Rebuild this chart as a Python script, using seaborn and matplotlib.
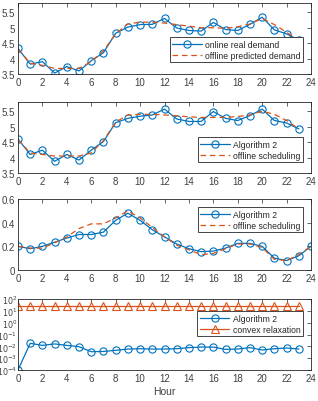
import numpy as np
import pandas as pd
import matplotlib
matplotlib.use("Agg")
import matplotlib.pyplot as plt
import seaborn as sns

hours24 = list(range(24))
hours25 = list(range(25))

online_demand = [4.33, 3.82, 3.90, 3.53, 3.74, 3.60, 3.93, 4.19, 4.82, 5.02, 5.10, 5.11,
                 5.30, 4.99, 4.91, 4.89, 5.17, 4.94, 4.91, 5.11, 5.34, 4.93, 4.80, 4.60]
offline_demand = [4.30, 3.85, 3.78, 3.68, 3.68, 3.68, 3.90, 4.25, 4.80, 5.12, 5.18, 5.18,
                  5.15, 5.10, 5.05, 5.00, 5.00, 4.98, 5.03, 5.12, 5.30, 5.10, 4.85, 4.60]

alg2_p2 = [4.60, 4.10, 4.24, 3.88, 4.10, 3.92, 4.24, 4.52, 5.13, 5.27, 5.34, 5.38,
           5.57, 5.25, 5.17, 5.17, 5.49, 5.27, 5.20, 5.36, 5.57, 5.20, 5.12, 4.93]
offline_p2 = [4.58, 4.15, 4.10, 4.05, 4.05, 4.05, 4.15, 4.55, 5.15, 5.38, 5.40, 5.40,
              5.38, 5.35, 5.32, 5.30, 5.30, 5.30, 5.33, 5.38, 5.50, 5.40, 5.20, 4.93]

alg2_p3 = [0.20, 0.18, 0.20, 0.235, 0.27, 0.30, 0.30, 0.32, 0.42, 0.48, 0.42, 0.34, 0.28,
           0.22, 0.18, 0.155, 0.16, 0.185, 0.225, 0.225, 0.20, 0.10, 0.08, 0.12, 0.20]
offline_p3 = [0.20, 0.185, 0.185, 0.23, 0.28, 0.35, 0.39, 0.39, 0.44, 0.50, 0.44, 0.36, 0.28,
              0.21, 0.17, 0.13, 0.14, 0.18, 0.22, 0.22, 0.19, 0.09, 0.08, 0.13, 0.20]

alg2_gap = [1e-4, 0.018, 0.012, 0.016, 0.012, 0.0093, 0.0035, 0.0037, 0.0046, 0.0059, 0.0063,
            0.0059, 0.0059, 0.0063, 0.0078, 0.0087, 0.0087, 0.0055, 0.0059, 0.0078, 0.0049,
            0.0063, 0.0072, 0.0059]
convex_gap = [27.0] * 24

BLUE = "#0072BD"
RED = "#D95319"

sns.set_style("white")
plt.rcParams["font.family"] = ["Liberation Sans", "DejaVu Sans"]
plt.rcParams["font.size"] = 7

fig = plt.figure(figsize=(3.18, 4.02), dpi=100)
W, H = 318.0, 402.0
left, right = 18, 311
panels = [(4, 75), (103, 174), (200, 271), (300, 371)]
axes = []
for top, bot in panels:
    ax = fig.add_axes([left / W, (H - bot) / H, (right - left) / W, (bot - top) / H])
    axes.append(ax)


def style(ax):
    for s in ax.spines.values():
        s.set_color("#262626")
        s.set_linewidth(0.6)
    ax.tick_params(direction="in", top=True, right=True, length=3, width=0.5,
                   colors="#262626", labelsize=7, pad=2, labelcolor="#404040")
    ax.set_xlim(0, 24)
    ax.set_xticks(range(0, 25, 2))
    ax.set_xlabel("")
    ax.set_ylabel("")


def legend(ax, ytop):
    leg = ax.legend(loc="upper right", bbox_to_anchor=(0.973, ytop), borderaxespad=0,
                    fancybox=False, framealpha=1, edgecolor="#262626", fontsize=6.2,
                    handlelength=3.4, borderpad=0.3, labelspacing=0.25, handletextpad=0.4)
    leg.get_frame().set_linewidth(0.6)
    for t in leg.get_texts():
        t.set_color("#262626")


mk = dict(marker="o", markersize=5.2, markerfacecolor="none", markeredgecolor=BLUE,
          markeredgewidth=0.8)
DASH = (0, (4.5, 3))

# Panel 1
ax = axes[0]
d1 = pd.DataFrame({"h": hours24, "a": online_demand, "b": offline_demand})
sns.lineplot(data=d1, x="h", y="a", ax=ax, color=BLUE, lw=0.9, label="online real demand", **mk)
sns.lineplot(data=d1, x="h", y="b", ax=ax, color=RED, lw=0.9, label="offline predicted demand")
ax.lines[1].set_linestyle(DASH)
ax.set_ylim(3.5, 5.8)
ax.set_yticks([3.5, 4, 4.5, 5, 5.5])
ax.set_yticklabels(["3.5", "4", "4.5", "5", "5.5"])
style(ax)
legend(ax, 0.52)

# Panel 2
ax = axes[1]
d2 = pd.DataFrame({"h": hours24, "a": alg2_p2, "b": offline_p2})
sns.lineplot(data=d2, x="h", y="a", ax=ax, color=BLUE, lw=0.9, label="Algorithm 2", **mk)
sns.lineplot(data=d2, x="h", y="b", ax=ax, color=RED, lw=0.9, label="offline scheduling")
ax.lines[1].set_linestyle(DASH)
ax.set_ylim(3.5, 5.8)
ax.set_yticks([3.5, 4, 4.5, 5, 5.5])
ax.set_yticklabels(["3.5", "4", "4.5", "5", "5.5"])
style(ax)
legend(ax, 0.507)

# Panel 3
ax = axes[2]
d3 = pd.DataFrame({"h": hours25, "a": alg2_p3, "b": offline_p3})
sns.lineplot(data=d3, x="h", y="a", ax=ax, color=BLUE, lw=0.9, label="Algorithm 2", **mk)
sns.lineplot(data=d3, x="h", y="b", ax=ax, color=RED, lw=0.9, label="offline scheduling")
ax.lines[1].set_linestyle(DASH)
ax.set_ylim(0, 0.6)
ax.set_yticks([0, 0.2, 0.4, 0.6])
ax.set_yticklabels(["0", "0.2", "0.4", "0.6"])
style(ax)
legend(ax, 0.887)

# Panel 4
ax = axes[3]
d4 = pd.DataFrame({"h": hours24, "a": alg2_gap, "b": convex_gap})
sns.lineplot(data=d4, x="h", y="a", ax=ax, color=BLUE, lw=0.9, label="Algorithm 2", **mk)
sns.lineplot(data=d4, x="h", y="b", ax=ax, color=RED, lw=0.9, label="convex relaxation",
             marker="^", markersize=5.2, markerfacecolor="none", markeredgecolor=RED,
             markeredgewidth=0.8)
ax.set_yscale("log")
ax.set_ylim(1e-4, 1e2)
ax.set_yticks([1e-4, 1e-3, 1e-2, 1e-1, 1e0, 1e1, 1e2])
ax.set_yticklabels([r"$10^{-4}$", r"$10^{-3}$", r"$10^{-2}$", r"$10^{-1}$",
                    r"$10^{0}$", r"$10^{1}$", r"$10^{2}$"])
style(ax)
ax.tick_params(axis="y", labelsize=5.8, pad=0.5)
ax.tick_params(axis="y", which="minor", direction="in", right=True, left=True,
               length=1.5, width=0.4, colors="#262626")
legend(ax, 0.83)
ax.set_xlabel("Hour", fontsize=7.5, color="#404040", labelpad=2)

fig.savefig("out.png", dpi=100)
